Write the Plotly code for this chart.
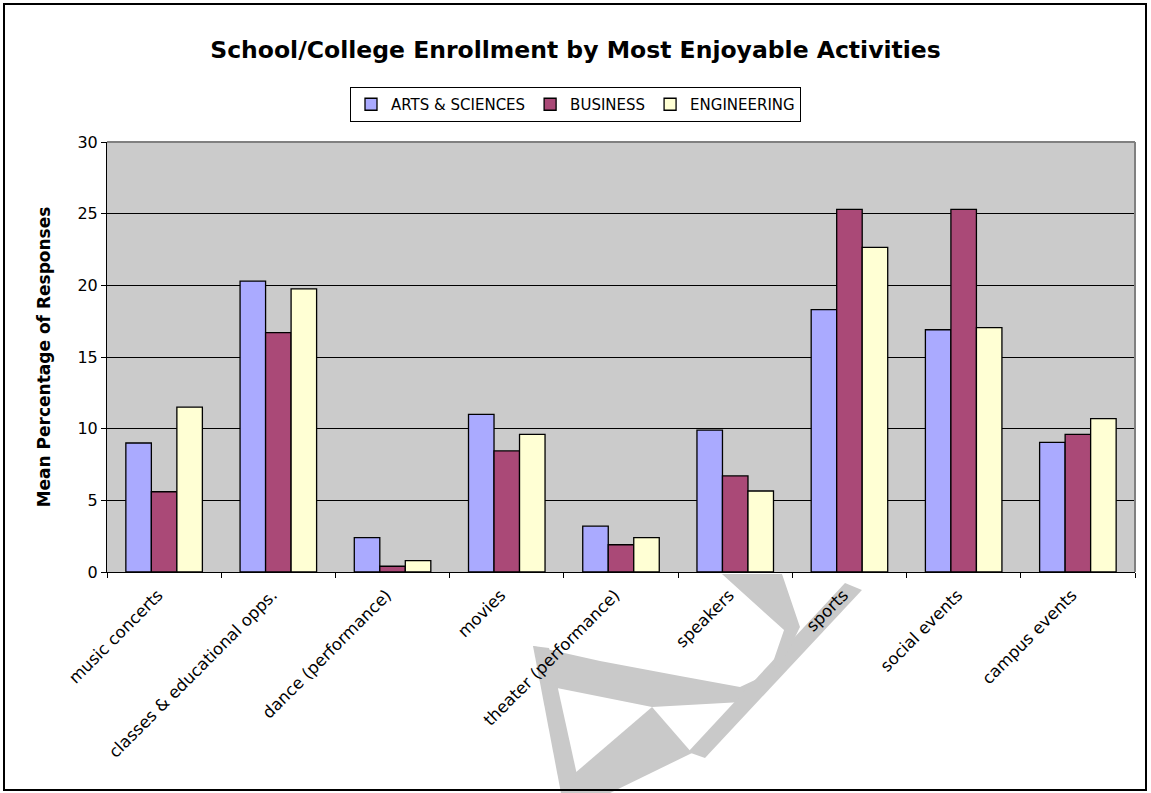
import plotly.graph_objects as go

# Survey results: mean percentage of responses per activity, by school/college
activities = [
    "music concerts",
    "classes & educational opps.",
    "dance (performance)",
    "movies",
    "theater (performance)",
    "speakers",
    "sports",
    "social events",
    "campus events",
]
arts_sciences = [9.0, 20.3, 2.4, 11.0, 3.2, 9.9, 18.3, 16.9, 9.05]
business = [5.6, 16.7, 0.4, 8.45, 1.9, 6.7, 25.3, 25.3, 9.6]
engineering = [11.5, 19.75, 0.8, 9.6, 2.4, 5.65, 22.65, 17.05, 10.7]

series_names = ["ARTS & SCIENCES", "BUSINESS", "ENGINEERING"]
series_values = [arts_sciences, business, engineering]
series_colors = ["#AAAAFF", "#AA4977", "#FFFFD4"]

FONT = "DejaVu Sans, Verdana, sans-serif"
W, H = 1151, 793
ML, MR, MT, MB = 107, 16, 142, 221
PW, PH = W - ML - MR, H - MT - MB


def px(x, y):
    """Pixel position on the page -> paper coordinates."""
    return (x - ML) / PW, (H - MB - y) / PH


def poly_path(points):
    parts = []
    for i, (x, y) in enumerate(points):
        u, v = px(x, y)
        parts.append(("M" if i == 0 else "L") + f"{u:.4f},{v:.4f}")
    return " ".join(parts) + " Z"


fig = go.Figure()
for name, vals, color in zip(series_names, series_values, series_colors):
    fig.add_trace(
        go.Bar(
            x=activities,
            y=vals,
            name=name,
            marker=dict(color=color, line=dict(color="#000000", width=1.3)),
        )
    )

legend_x, legend_y = px(W / 2, 87)

fig.update_layout(
    width=W,
    height=H,
    margin=dict(l=ML, r=MR, t=MT, b=MB, autoexpand=False),
    paper_bgcolor="#FFFFFF",
    plot_bgcolor="#CBCBCB",
    barmode="group",
    bargap=0.33,
    bargroupgap=0,
    font=dict(family=FONT, size=16, color="#000000"),
    title=dict(
        text="<b>School/College Enrollment by Most Enjoyable Activities</b>",
        x=0.5,
        xanchor="center",
        y=1 - 50 / H,
        yanchor="middle",
        font=dict(family=FONT, size=23.5, color="#000000"),
    ),
    legend=dict(
        orientation="h",
        x=legend_x,
        xanchor="center",
        y=legend_y,
        yanchor="top",
        bgcolor="#FFFFFF",
        bordercolor="#000000",
        borderwidth=1,
        font=dict(family=FONT, size=15, color="#000000"),
        itemwidth=30,
        tracegroupgap=0,
    ),
    showlegend=True,
)

fig.update_xaxes(
    type="category",
    tickangle=-45,
    tickson="boundaries",
    ticks="outside",
    ticklen=5,
    tickcolor="#000000",
    ticklabelstandoff=6,
    ticklabelshift=-6,
    showline=True,
    linecolor="#000000",
    linewidth=1,
    showgrid=False,
    tickfont=dict(family=FONT, size=16.5, color="#000000"),
)

fig.update_yaxes(
    range=[0, 30],
    dtick=5,
    ticks="outside",
    ticklen=5,
    tickcolor="#000000",
    showline=True,
    linecolor="#000000",
    linewidth=1,
    showgrid=True,
    gridcolor="#000000",
    gridwidth=1,
    zeroline=False,
    tickfont=dict(family=FONT, size=16, color="#000000"),
    title=dict(
        text="<b>Mean Percentage of Responses</b>",
        font=dict(family=FONT, size=17, color="#000000"),
        standoff=22,
    ),
)

# Grey top and right edges of the plotting area
fig.add_shape(type="line", xref="paper", yref="paper", x0=0, x1=1, y0=1, y1=1,
              line=dict(color="#808080", width=2), layer="above")
fig.add_shape(type="line", xref="paper", yref="paper", x0=1, x1=1, y0=0, y1=1,
              line=dict(color="#808080", width=2), layer="above")

# Faint grey letter mark sitting behind the category labels
letter_strokes = [
    [(533, 646), (549, 648), (581, 793), (561, 793)],
    [(533, 646), (600, 661), (680, 676), (740, 687), (768, 674), (760, 692),
     (742, 702), (652, 707), (557, 688)],
    [(575, 773), (652, 707), (692, 753), (610, 793), (578, 793)],
    [(845, 583), (862, 590), (705, 758), (688, 752)],
    [(722, 574), (782, 574), (800, 627), (780, 668), (772, 665), (784, 630)],
]
for pts in letter_strokes:
    fig.add_shape(type="path", xref="paper", yref="paper", path=poly_path(pts),
                  fillcolor="#C9C9C9", line=dict(width=0), layer="below")

# Black frame around the whole chart
x0, y1 = px(4, 4)
x1, y0 = px(1146, 790)
fig.add_shape(type="rect", xref="paper", yref="paper", x0=x0, x1=x1, y0=y0, y1=y1,
              line=dict(color="#000000", width=2), fillcolor="rgba(0,0,0,0)",
              layer="below")

fig.write_html("out.html")
